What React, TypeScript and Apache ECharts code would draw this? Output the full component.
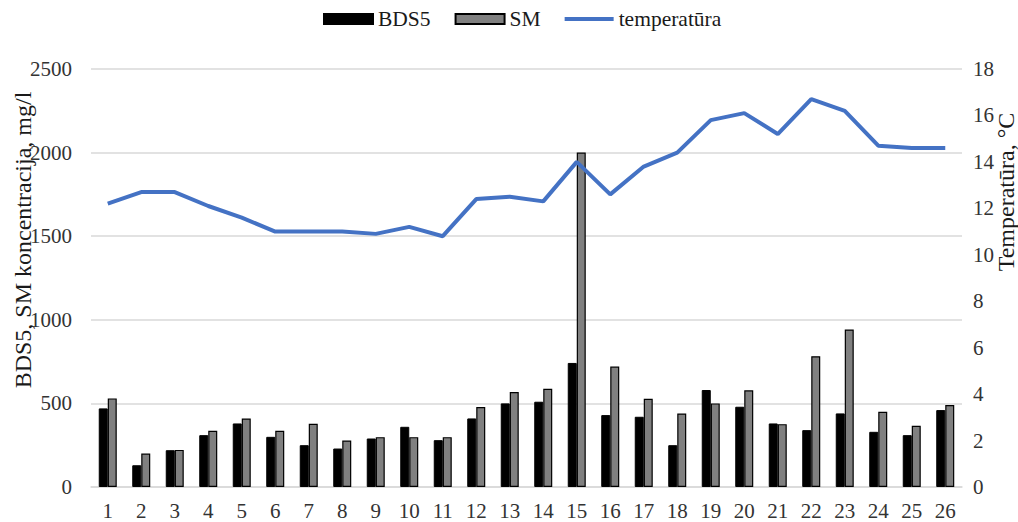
import React, { useEffect, useRef } from "react";
import * as echarts from "echarts";

const categories = ["1","2","3","4","5","6","7","8","9","10","11","12","13","14","15","16","17","18","19","20","21","22","23","24","25","26"];
const bds5 = [470, 130, 220, 310, 380, 300, 250, 230, 290, 360, 280, 410, 500, 510, 742, 430, 420, 250, 580, 480, 380, 340, 440, 330, 310, 460];
const sm = [530, 200, 222, 336, 410, 336, 378, 278, 298, 298, 298, 478, 568, 588, 2000, 720, 528, 440, 500, 578, 376, 782, 942, 450, 366, 490];
const temperatura = [12.2, 12.7, 12.7, 12.1, 11.6, 11.0, 11.0, 11.0, 10.9, 11.2, 10.8, 12.4, 12.5, 12.3, 14.0, 12.6, 13.8, 14.4, 15.8, 16.1, 15.2, 16.7, 16.2, 14.7, 14.6, 14.6];

const FONT = "Liberation Serif";

export default function App() {
  const ref = useRef<HTMLDivElement>(null);
  useEffect(() => {
    if (!ref.current) return;
    const chart = echarts.init(ref.current, null, { renderer: "svg" });
    chart.setOption({
      animation: false,
      textStyle: { fontFamily: FONT, color: "#404040" },
      legend: {
        top: 8,
        left: 323,
        padding: 0,
        itemWidth: 49,
        itemHeight: 10,
        itemGap: 24,
        textStyle: { fontFamily: FONT, fontSize: 21.5, color: "#1a1a1a" },
        data: [
          { name: "BDS5", icon: "rect" },
          { name: "SM", icon: "rect" },
          { name: "temperatūra", icon: "path://M0 0H49V4H0Z" },
        ],
      },
      grid: { left: 91, right: 56, top: 69, bottom: 35 },
      xAxis: {
        type: "category",
        data: categories,
        axisLine: { lineStyle: { color: "#d9d9d9", width: 1.5 } },
        axisTick: { show: false },
        axisLabel: { fontFamily: FONT, fontSize: 21, color: "#333", margin: 13 },
      },
      yAxis: [
        {
          type: "value",
          min: 0,
          max: 2500,
          interval: 500,
          axisLine: { show: false },
          axisTick: { show: false },
          splitLine: { lineStyle: { color: "#d9d9d9", width: 1.5 } },
          axisLabel: { fontFamily: FONT, fontSize: 21, color: "#333", margin: 19, formatter: (v: number) => String(v) },
        },
        {
          type: "value",
          min: 0,
          max: 18,
          interval: 2,
          axisLine: { show: false },
          axisTick: { show: false },
          splitLine: { show: false },
          axisLabel: { fontFamily: FONT, fontSize: 21, color: "#333", margin: 11 },
        },
      ],
      series: [
        {
          name: "BDS5",
          type: "bar",
          data: bds5,
          barWidth: 9,
          barGap: "0%",
          itemStyle: { color: "#000000", borderColor: "#000000", borderWidth: 1 },
        },
        {
          name: "SM",
          type: "bar",
          data: sm,
          barWidth: 9,
          barGap: "0%",
          itemStyle: { color: "#808080", borderColor: "#000000", borderWidth: 1.2 },
        },
        {
          name: "temperatūra",
          type: "line",
          yAxisIndex: 1,
          data: temperatura,
          symbol: "none",
          z: 5,
          lineStyle: { color: "#4472C4", width: 4 },
          itemStyle: { color: "#4472C4" },
        },
      ],
      graphic: [
        {
          type: "text",
          x: 23,
          y: 240,
          rotation: Math.PI / 2,
          style: {
            text: "BDS5, SM koncentracija, mg/l",
            fontFamily: FONT,
            fontSize: 24,
            fill: "#1a1a1a",
            align: "center",
            verticalAlign: "middle",
          },
        },
        {
          type: "text",
          x: 1006,
          y: 192,
          rotation: Math.PI / 2,
          style: {
            text: "Temperatūra, °C",
            fontFamily: FONT,
            fontSize: 24,
            fill: "#1a1a1a",
            align: "center",
            verticalAlign: "middle",
          },
        },
      ],
    });
    return () => chart.dispose();
  }, []);
  return <div ref={ref} style={{ width: 1018, height: 522, position: "absolute", left: 0, top: 0 }} />;
}
